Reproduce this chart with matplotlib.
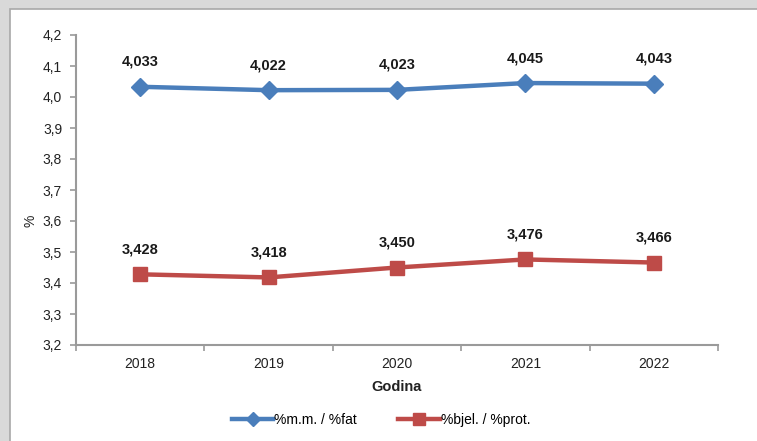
import matplotlib
matplotlib.use("Agg")
import matplotlib.pyplot as plt
from matplotlib.patches import Rectangle
from matplotlib.ticker import FixedLocator, FuncFormatter

plt.rcParams['font.family'] = ['Liberation Sans', 'DejaVu Sans']

years = ['2018', '2019', '2020', '2021', '2022']
fat = [4.033, 4.022, 4.023, 4.045, 4.043]
prot = [3.428, 3.418, 3.450, 3.476, 3.466]
fat_label = '%m.m. / %fat'
prot_label = '%bjel. / %prot.'
x_title = 'Godina'
y_title = '%'
y_ticks = [3.2, 3.3, 3.4, 3.5, 3.6, 3.7, 3.8, 3.9, 4.0, 4.1, 4.2]

blue = '#4a7ebb'
red = '#be4b48'
axis_col = '#9a9a9a'

fig = plt.figure(figsize=(7.57, 4.41), dpi=100)
fig.patch.set_facecolor('#d9d9d9')
fig.patches.append(Rectangle((10/757, -0.1), 1.2, 1.1 - 9/441, transform=fig.transFigure,
                             facecolor='white', edgecolor='#a8a8a8', linewidth=1.2, zorder=-5))

ax = fig.add_axes([76/757, 1 - 345/441, (718-76)/757, (345-35)/441])
ax.set_facecolor('none')
ax.set_zorder(2)

xs = list(range(len(years)))
ax.plot(xs, fat, color=blue, lw=3.2, marker='D', markersize=9, label=fat_label, zorder=3)
ax.plot(xs, prot, color=red, lw=3.2, marker='s', markersize=10, label=prot_label, zorder=3)

def fmt(v):
    return f'{v:.3f}'.replace('.', ',')

for xi, v in zip(xs, fat):
    ax.annotate(fmt(v), (xi, v), xytext=(0, 18), textcoords='offset points',
                ha='center', va='center', fontsize=10.5, fontweight='bold', color='#1a1a1a')
for xi, v in zip(xs, prot):
    ax.annotate(fmt(v), (xi, v), xytext=(0, 18), textcoords='offset points',
                ha='center', va='center', fontsize=10.5, fontweight='bold', color='#1a1a1a')

ax.set_xlim(-0.5, len(years) - 0.5)
ax.set_ylim(3.2, 4.2)
ax.yaxis.set_major_locator(FixedLocator(y_ticks))
ax.yaxis.set_major_formatter(FuncFormatter(lambda v, p: f'{v:.1f}'.replace('.', ',')))
ax.set_xticks(xs)
ax.set_xticklabels(years)
ax.set_xticks([i - 0.5 for i in range(len(years) + 1)], minor=True)
ax.tick_params(axis='x', which='major', length=0, pad=9, labelsize=10, labelcolor='#222222')
ax.tick_params(axis='x', which='minor', length=4, color=axis_col, width=1.2, direction='out')
ax.tick_params(axis='y', length=4, color=axis_col, width=1.2, pad=6, labelsize=10, labelcolor='#222222')

for s in ['top', 'right']:
    ax.spines[s].set_visible(False)
for s in ['left', 'bottom']:
    ax.spines[s].set_color(axis_col)
    ax.spines[s].set_linewidth(1.5)

ax.set_xlabel(x_title, fontsize=10.5, fontweight='bold', labelpad=6, color='#222222')
ax.set_ylabel(y_title, fontsize=10, labelpad=5, color='#222222')
ax.yaxis.set_label_coords(-0.06, 0.40)

fig.legend(loc='center', bbox_to_anchor=(381/757, 1 - 420/441), ncol=2, frameon=False,
           fontsize=10, handlelength=3.0, columnspacing=3.0, handletextpad=0.05,
           markerscale=0.8)

fig.savefig('out.png', dpi=100, facecolor=fig.get_facecolor())
